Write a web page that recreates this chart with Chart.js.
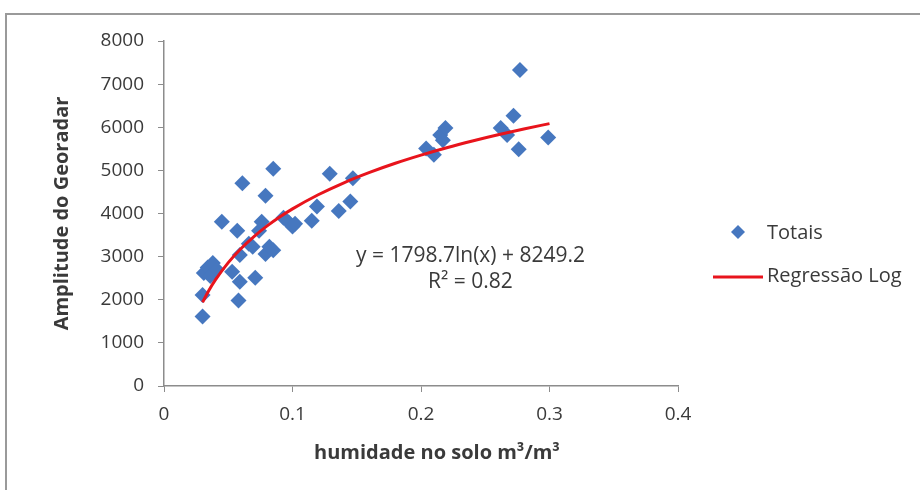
<!DOCTYPE html>
<html>
<head>
<meta charset="utf-8">
<script src="https://cdn.jsdelivr.net/npm/chart.js@4.4.0/dist/chart.umd.min.js"></script>
<style>
  html, body { margin: 0; padding: 0; background: #fff; }
  #wrap { position: relative; width: 920px; height: 490px; overflow: hidden; }
  #frame { position: absolute; left: 5px; top: 13px; width: 940px; height: 500px; border: 2px solid #9a9a9a; box-sizing: border-box; pointer-events: none; }
  canvas { position: absolute; left: 0; top: 0; }
</style>
</head>
<body>
<div id="wrap">
  <canvas id="c" width="920" height="490"></canvas>
  <div id="frame"></div>
</div>
<script>
const seriesName = "Totais";
const trendName = "Regressão Log";
const xTitle = "humidade no solo m³/m³";
const yTitle = "Amplitude do Georadar";
const equationText = "y = 1798.7ln(x) + 8249.2";
const r2Text = "R² = 0.82";
const xTicks = [0, 0.1, 0.2, 0.3, 0.4];
const yTicks = [0, 1000, 2000, 3000, 4000, 5000, 6000, 7000, 8000];

const humidity = [0.030,0.030,0.031,0.034,0.036,0.038,0.041,0.045,0.053,0.057,0.059,0.059,0.058,0.061,0.066,0.069,0.071,0.074,0.076,0.079,0.079,0.082,0.085,0.085,0.093,0.097,0.100,0.102,0.115,0.119,0.129,0.136,0.145,0.147,0.204,0.210,0.215,0.217,0.219,0.262,0.267,0.272,0.276,0.277,0.299];
const amplitude = [1610,2110,2620,2750,2550,2850,2700,3810,2650,3600,3040,2420,1980,4700,3300,3230,2510,3600,3810,4410,3060,3230,3150,5035,3900,3800,3700,3760,3830,4160,4920,4060,4280,4820,5510,5360,5820,5700,5980,5980,5820,6265,5490,7330,5760];

const trendX = [0.03,0.035,0.04,0.05,0.06,0.07,0.08,0.09,0.1,0.12,0.14,0.16,0.18,0.2,0.22,0.24,0.26,0.28,0.3];
const trendY = [1942,2219,2459,2861,3189,3466,3706,3918,4108,4435,4713,4953,5165,5354,5526,5682,5826,5960,6084];

const FONT = "'Open Sans', 'DejaVu Sans', sans-serif";
const BLUE = '#4677BF';
const RED = '#E8141C';
const AXIS = '#8c8c8c';
const TEXT = '#3a3a3a';

const scatterPts = humidity.map((x, i) => ({ x: x, y: amplitude[i] }));
const trendPts = trendX.map((x, i) => ({ x: x, y: trendY[i] }));

const overlay = {
  id: 'overlay',
  afterDraw(chart) {
    const ctx = chart.ctx;
    const xs = chart.scales.x, ys = chart.scales.y;
    ctx.save();
    ctx.fillStyle = TEXT;
    ctx.font = "21px " + FONT;
    ctx.textAlign = 'center';
    ctx.textBaseline = 'middle';
    ctx.fillText(equationText, xs.getPixelForValue(0.2385), ys.getPixelForValue(3010));
    ctx.fillText(r2Text, xs.getPixelForValue(0.2385), ys.getPixelForValue(2410));
    // x-axis title (offset right of axis centre as in the reference)
    ctx.font = "bold 20px " + FONT;
    ctx.fillText(xTitle, 437, 453);
    // legend
    ctx.font = "20px " + FONT;
    ctx.textAlign = 'left';
    ctx.fillText(seriesName, 767, 233);
    ctx.fillText(trendName, 767, 276);
    ctx.fillStyle = BLUE;
    ctx.beginPath();
    ctx.moveTo(738, 225); ctx.lineTo(745, 232); ctx.lineTo(738, 239); ctx.lineTo(731, 232);
    ctx.closePath(); ctx.fill();
    ctx.strokeStyle = RED; ctx.lineWidth = 3;
    ctx.beginPath(); ctx.moveTo(713, 277); ctx.lineTo(763, 277); ctx.stroke();
    ctx.restore();
  }
};

new Chart(document.getElementById('c'), {
  type: 'scatter',
  data: {
    datasets: [
      {
        label: seriesName,
        data: scatterPts,
        pointStyle: 'rectRot',
        pointRadius: 8,
        pointHoverRadius: 8,
        backgroundColor: BLUE,
        borderColor: BLUE,
        borderWidth: 0,
        order: 2
      },
      {
        label: trendName,
        type: 'line',
        data: trendPts,
        showLine: true,
        borderColor: RED,
        borderWidth: 3,
        pointRadius: 0,
        tension: 0.4,
        cubicInterpolationMode: 'monotone',
        fill: false,
        order: 1
      }
    ]
  },
  options: {
    responsive: false,
    animation: false,
    events: [],
    layout: { padding: { left: 0, top: 41, right: 242, bottom: 0 } },
    plugins: { legend: { display: false }, tooltip: { enabled: false } },
    scales: {
      x: {
        type: 'linear',
        min: 0, max: 0.4,
        afterBuildTicks(scale) { scale.ticks = xTicks.map(v => ({ value: v })); },
        afterFit(scale) { scale.height = 104; },
        ticks: {
          color: TEXT,
          font: { family: FONT, size: 19 },
          padding: 11,
          callback: (v) => String(v)
        },
        grid: { drawOnChartArea: false, drawTicks: true, tickLength: 6, color: AXIS, tickColor: AXIS },
        border: { color: AXIS, width: 1.5 },
        title: { display: false }
      },
      y: {
        type: 'linear',
        min: 0, max: 8000,
        afterBuildTicks(scale) { scale.ticks = yTicks.map(v => ({ value: v })); },
        afterFit(scale) { scale.width = 164; },
        ticks: {
          color: TEXT,
          font: { family: FONT, size: 19 },
          padding: 14,
          callback: (v) => String(v)
        },
        grid: { drawOnChartArea: false, drawTicks: true, tickLength: 6, color: AXIS, tickColor: AXIS },
        border: { color: AXIS, width: 1.5 },
        title: {
          display: true, text: yTitle, color: TEXT,
          font: { family: FONT, size: 20, weight: 'bold' },
          padding: { top: 50, bottom: 0 }
        }
      }
    }
  },
  plugins: [overlay]
});
</script>
</body>
</html>
